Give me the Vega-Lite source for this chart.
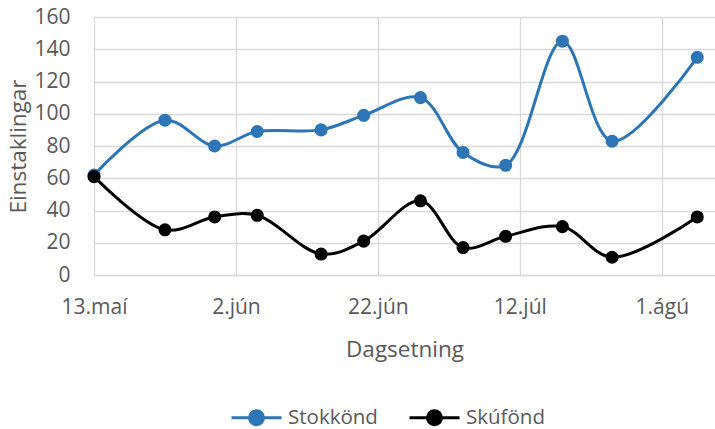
{
  "$schema": "https://vega.github.io/schema/vega-lite/v6.json",
  "width": 621,
  "height": 258,
  "autosize": {"type": "none"},
  "padding": {"left": 94, "top": 17, "right": 0, "bottom": 154},
  "background": "white",
  "config": {"font": "Open Sans", "view": {"stroke": null}},
  "data": {
    "values": [
      {"dato": "2019-05-13", "tegund": "Stokkönd", "fjoldi": 62},
      {"dato": "2019-05-23", "tegund": "Stokkönd", "fjoldi": 96},
      {"dato": "2019-05-30", "tegund": "Stokkönd", "fjoldi": 80},
      {"dato": "2019-06-05", "tegund": "Stokkönd", "fjoldi": 89},
      {"dato": "2019-06-14", "tegund": "Stokkönd", "fjoldi": 90},
      {"dato": "2019-06-20", "tegund": "Stokkönd", "fjoldi": 99},
      {"dato": "2019-06-28", "tegund": "Stokkönd", "fjoldi": 110},
      {"dato": "2019-07-04", "tegund": "Stokkönd", "fjoldi": 76},
      {"dato": "2019-07-10", "tegund": "Stokkönd", "fjoldi": 68},
      {"dato": "2019-07-18", "tegund": "Stokkönd", "fjoldi": 145},
      {"dato": "2019-07-25", "tegund": "Stokkönd", "fjoldi": 83},
      {"dato": "2019-08-06", "tegund": "Stokkönd", "fjoldi": 135},
      {"dato": "2019-05-13", "tegund": "Skúfönd", "fjoldi": 61},
      {"dato": "2019-05-23", "tegund": "Skúfönd", "fjoldi": 28},
      {"dato": "2019-05-30", "tegund": "Skúfönd", "fjoldi": 36},
      {"dato": "2019-06-05", "tegund": "Skúfönd", "fjoldi": 37},
      {"dato": "2019-06-14", "tegund": "Skúfönd", "fjoldi": 13},
      {"dato": "2019-06-20", "tegund": "Skúfönd", "fjoldi": 21},
      {"dato": "2019-06-28", "tegund": "Skúfönd", "fjoldi": 46},
      {"dato": "2019-07-04", "tegund": "Skúfönd", "fjoldi": 17},
      {"dato": "2019-07-10", "tegund": "Skúfönd", "fjoldi": 24},
      {"dato": "2019-07-18", "tegund": "Skúfönd", "fjoldi": 30},
      {"dato": "2019-07-25", "tegund": "Skúfönd", "fjoldi": 11},
      {"dato": "2019-08-06", "tegund": "Skúfönd", "fjoldi": 36}
    ]
  },
  "mark": {
    "type": "line",
    "interpolate": "catmull-rom",
    "strokeWidth": 3,
    "point": {"filled": true, "size": 170, "opacity": 1}
  },
  "encoding": {
    "x": {
      "field": "dato",
      "type": "temporal",
      "scale": {
        "type": "utc",
        "domain": [
          {"year": 2019, "month": 5, "date": 13, "utc": true},
          {"year": 2019, "month": 8, "date": 8, "hours": 12, "utc": true}
        ]
      },
      "axis": {
        "values": [
          {"year": 2019, "month": 5, "date": 13, "utc": true},
          {"year": 2019, "month": 6, "date": 2, "utc": true},
          {"year": 2019, "month": 6, "date": 22, "utc": true},
          {"year": 2019, "month": 7, "date": 12, "utc": true},
          {"year": 2019, "month": 8, "date": 1, "utc": true}
        ],
        "labelExpr": "utcdate(datum.value) + '.' + ['jan','feb','mar','apr','maí','jún','júl','ágú','sep','okt','nóv','des'][utcmonth(datum.value)]",
        "grid": true,
        "gridColor": "#D9D9D9",
        "gridWidth": 1.3,
        "domainColor": "#D9D9D9",
        "domainWidth": 1.3,
        "ticks": false,
        "tickSize": 0,
        "labelPadding": 21,
        "labelFontSize": 21,
        "labelColor": "#595959",
        "labelFlush": false,
        "labelOverlap": false,
        "title": "Dagsetning",
        "titleFontSize": 22.5,
        "titleFontWeight": "normal",
        "titleColor": "#595959",
        "titleY": 81,
        "titleBaseline": "alphabetic"
      }
    },
    "y": {
      "field": "fjoldi",
      "type": "quantitative",
      "scale": {"domain": [0, 160]},
      "axis": {
        "values": [0, 20, 40, 60, 80, 100, 120, 140, 160],
        "grid": true,
        "gridColor": "#D9D9D9",
        "gridWidth": 1.3,
        "domain": false,
        "ticks": false,
        "tickSize": 0,
        "labelPadding": 24,
        "labelFontSize": 21,
        "labelColor": "#595959",
        "title": "Einstaklingar",
        "titleFontSize": 22.5,
        "titleFontWeight": "normal",
        "titleColor": "#595959",
        "titleX": -76,
        "titleY": 129,
        "titleAngle": -90,
        "titleAlign": "center",
        "titleBaseline": "middle"
      }
    },
    "color": {
      "field": "tegund",
      "type": "nominal",
      "scale": {"domain": ["Stokkönd", "Skúfönd"], "range": ["#2E75B6", "#000000"]},
      "legend": {
        "orient": "none",
        "legendX": 136,
        "legendY": 374,
        "direction": "horizontal",
        "title": null,
        "symbolType": "M-1,0H1M-0.28,0A0.28,0.28,0,1,0,0.28,0A0.28,0.28,0,1,0,-0.28,0Z",
        "symbolSize": 2500,
        "symbolStrokeWidth": 3,
        "labelFontSize": 20.5,
        "labelColor": "#595959",
        "labelOffset": 5,
        "columnPadding": 25,
        "encode": {
          "symbols": {
            "update": {
              "fill": {"scale": "color", "field": "value"},
              "stroke": {"scale": "color", "field": "value"},
              "opacity": {"value": 1}
            }
          }
        }
      }
    }
  }
}
